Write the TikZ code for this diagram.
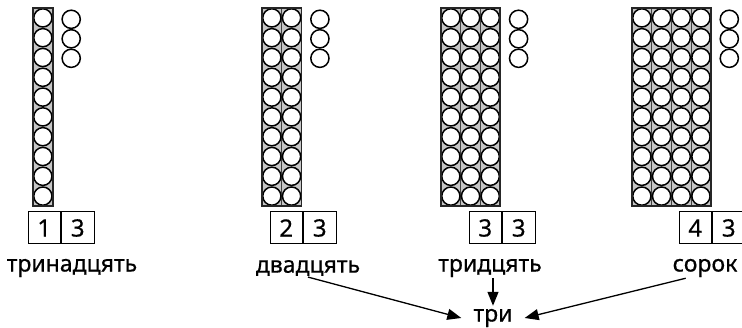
\documentclass[tikz,border=0pt]{standalone}
\usepackage{fontspec}
\setmainfont{Noto Sans}[FakeBold=0.6]
\usetikzlibrary{positioning, arrows.meta}

\tikzset{
  rackfill/.style={fill=gray!45},
  rackline/.style={draw=black!75, line width=0.8pt},
  rackframe/.style={draw=black!85, line width=1.7pt},
  bead/.style={draw=black, fill=white, line width=1.5pt},
}

\begin{document}
\begin{tikzpicture}[x=1pt, y=-1pt, node distance = 1cm, auto,
    digit/.style={draw, line width=1pt, minimum width=32.5pt, minimum height=32pt, inner sep=0pt, font=\fontsize{24}{26}\selectfont\bfseries},
    word/.style={inner sep=1pt, font=\fontsize{23}{26}\selectfont\bfseries},
    line/.style={draw, line width=1.3pt, -{Triangle[length=14pt, width=11pt]}}]
	\useasboundingbox (0,0) rectangle (742,328);
	% racks of ten, loose ones, place-value cards and words
	\foreach \L/\n/\bx/\t/\wx/\w [count=\k] in {33/1/28/1/72/тринадцять, 262/2/270/2/308/двадцять, 441/3/469/3/490/тридцять, 632/4/679/4/705/сорок} {
		\fill [rackfill] (\L,8) rectangle ++({\n*19.7},198);
		\foreach \i in {0,...,\n}
			\draw [rackline] ({\L+\i*19.7},8) -- ++(0,198);
		\foreach \i in {1,...,\n}
			\foreach \j in {1,...,10}
				\draw [bead] ({\L+(\i-0.5)*19.7},{8+(\j-0.5)*19.8}) circle [radius=9.1pt];
		\draw [rackframe] (\L,8) rectangle ++({\n*19.7},198);
		\foreach \j in {0,1,2}
			\draw [bead] ({\L+\n*19.7+18.5},{19.3+\j*19.5}) circle [radius=9.1pt];
		\node [digit] (tens\k) at ({\bx+16.25},228) {\t};
		\node [digit, right = 0pt of tens\k] (ones\k) {3};
		\node [word] (word\k) at (\wx,268) {\w};
	}
	\node [word, inner xsep=12pt, inner ysep=3pt] (tri) at (493,318) {три};
	\path [line] (word2.south) -- (tri.west);
	\path [line] (tri.north |- word3.south) -- (tri.north);
	\path [line] (word4.208) -- (tri.east);
\end{tikzpicture}
\end{document}
